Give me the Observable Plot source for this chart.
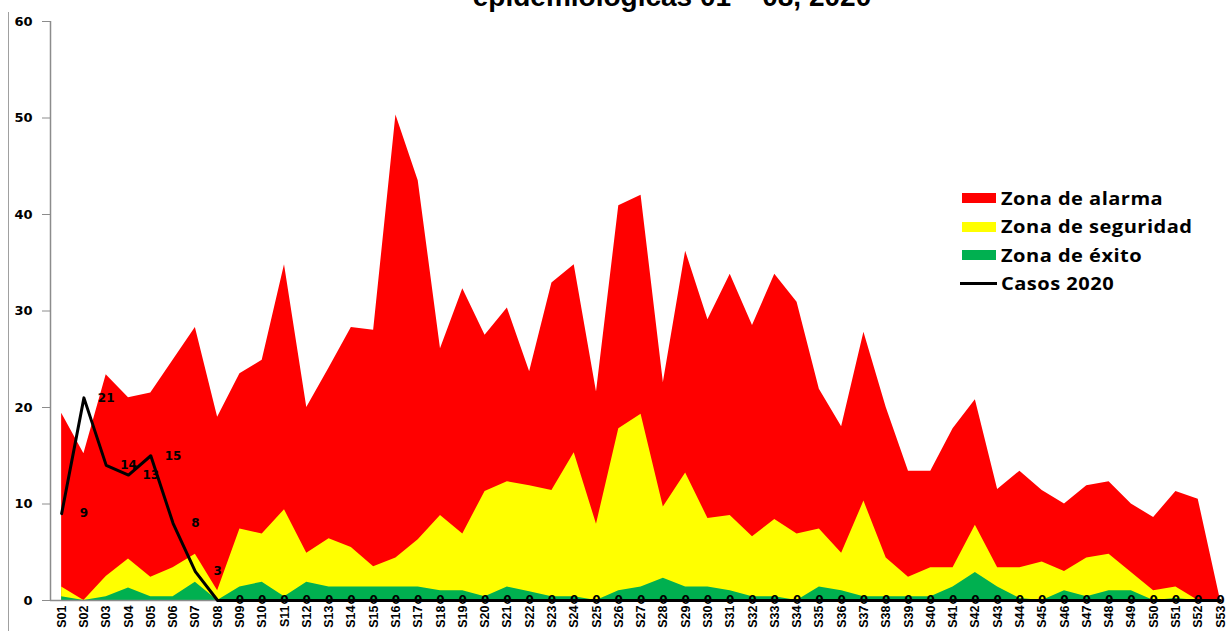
<!DOCTYPE html>
<html><head><meta charset="utf-8">
<script src="https://cdn.jsdelivr.net/npm/d3@7"></script>
<script src="https://cdn.jsdelivr.net/npm/@observablehq/plot@0.6"></script>
<style>
html,body{margin:0;padding:0;background:#fff;overflow:hidden;}
#wrap{position:relative;width:1228px;height:631px;overflow:hidden;background:#fff;}
#chart{position:absolute;left:0;top:0;}
#title{position:absolute;left:0;width:1228px;padding-left:116px;box-sizing:border-box;text-align:center;top:-17px;font:bold 28px "Liberation Sans",Arial,sans-serif;line-height:28px;white-space:nowrap;color:#000;}
#frame{position:absolute;left:8px;top:12px;bottom:0;border-left:1.5px solid #a0a0a0;}
#legend{position:absolute;left:960px;top:184px;font:bold 17px "Open Sans",sans-serif;letter-spacing:0.4px;color:#000;}
.row{display:flex;align-items:center;height:28.5px;}
.row span{display:inline-block;transform:scaleX(1.18);transform-origin:left center;white-space:nowrap;}
.sw{width:34px;height:10px;margin-right:5px;margin-left:2px;}
.ln{width:37px;height:3px;background:#000;margin-right:4px;}
</style></head>
<body>
<div id="wrap">
  <div id="frame"></div>
  <div id="chart"></div>
  <div id="title">epidemiológicas 01 – 08, 2020</div>
  <div id="legend">
    <div class="row"><div class="sw" style="background:#FF0000"></div><span>Zona de alarma</span></div>
    <div class="row"><div class="sw" style="background:#FFFF00"></div><span>Zona de seguridad</span></div>
    <div class="row"><div class="sw" style="background:#00B050"></div><span>Zona de éxito</span></div>
    <div class="row"><div class="ln"></div><span>Casos 2020</span></div>
  </div>
</div>
<script>
const weeks = ["S01","S02","S03","S04","S05","S06","S07","S08","S09","S10",
  "S11","S12","S13","S14","S15","S16","S17","S18","S19","S20",
  "S21","S22","S23","S24","S25","S26","S27","S28","S29","S30",
  "S31","S32","S33","S34","S35","S36","S37","S38","S39","S40",
  "S41","S42","S43","S44","S45","S46","S47","S48","S49","S50",
  "S51","S52","S53"];

const alarma = [19.4,15.2,23.4,21.0,21.5,24.9,28.3,19.0,23.5,24.9,
  34.8,20.0,24.1,28.3,28.0,50.3,43.5,26.1,32.3,27.5,
  30.3,23.7,32.9,34.8,21.6,40.9,42.0,22.6,36.2,29.1,
  33.8,28.5,33.8,30.9,21.9,18.0,27.8,20.0,13.4,13.4,
  17.8,20.8,11.5,13.4,11.4,10.0,11.9,12.3,10.0,8.6,
  11.3,10.5,0];

const seguridad = [1.4,0,2.5,4.3,2.4,3.4,4.8,1.0,7.4,6.9,
  9.4,4.9,6.4,5.5,3.5,4.4,6.3,8.8,6.9,11.3,
  12.3,11.9,11.4,15.3,7.9,17.8,19.3,9.7,13.2,8.5,
  8.8,6.6,8.4,6.9,7.4,4.9,10.3,4.4,2.4,3.4,
  3.4,7.8,3.4,3.4,4.0,3.0,4.4,4.8,2.9,1.0,
  1.4,0,0];

const exito = [0.4,0,0.4,1.3,0.4,0.4,1.9,0,1.4,1.9,
  0.4,1.9,1.4,1.4,1.4,1.4,1.4,1.0,1.0,0.4,
  1.4,0.9,0.4,0.4,0,1.0,1.4,2.3,1.4,1.4,
  1.0,0.4,0.4,0,1.4,1.0,0.4,0.4,0.4,0.4,
  1.4,2.9,1.4,0.2,0,1.0,0.4,1.0,1.0,0,
  0.2,0,0];

const casos2020 = [9,21,14,13,15,8,3,0,0,0,
  0,0,0,0,0,0,0,0,0,0,
  0,0,0,0,0,0,0,0,0,0,
  0,0,0,0,0,0,0,0,0,0,
  0,0,0,0,0,0,0,0,0,0,
  0,0,0];

const yTicks = [0,10,20,30,40,50,60];

const rows = weeks.map((w, k) => ({
  i: k + 1, week: w,
  alarma: alarma[k], seguridad: seguridad[k], exito: exito[k], casos: casos2020[k]
}));
const xStart = 0.5;
const idx = rows.map(d => d.i);

const chart = Plot.plot({
  width: 1228, height: 631,
  marginTop: 21, marginBottom: 31, marginLeft: 50, marginRight: 8,
  style: {background: "transparent", fontFamily: "DejaVu Sans", color: "#000", overflow: "visible"},
  x: {type: "linear", domain: [xStart, weeks.length]},
  y: {domain: [0, 60]},
  marks: [
    Plot.areaY(rows, {x: "i", y: "alarma", fill: "#FF0000"}),
    Plot.areaY(rows, {x: "i", y: "seguridad", fill: "#FFFF00"}),
    Plot.areaY(rows, {x: "i", y: "exito", fill: "#00B050"}),
    Plot.ruleX([xStart], {y1: 0, y2: 60, stroke: "#8c8c8c", strokeWidth: 1.5}),
    Plot.ruleY([0], {stroke: "#8c8c8c", strokeWidth: 1.5}),
    Plot.axisY({ticks: yTicks, tickSize: 8, tickPadding: 10, stroke: "#8c8c8c", fill: "#000",
      fontWeight: "bold", fontSize: 13, fontFamily: "DejaVu Sans", label: null}),
    Plot.axisX({ticks: idx, tickFormat: i => weeks[i - 1], tickRotate: -90, tickSize: 0, tickPadding: 5,
      fill: "#000", fontWeight: "bold", fontSize: 12.5, fontFamily: "Liberation Sans", label: null}),
    Plot.lineY(rows, {x: "i", y: "casos", stroke: "#000", strokeWidth: 3}),
    Plot.text(rows.filter(d => d.i < weeks.length), {
      x: d => d.i + 1, y: "casos", text: d => String(d.casos), dx: 0,
      fontSize: 12, fontWeight: "bold", fontFamily: "DejaVu Sans", fill: "#000"})
  ]
});
document.getElementById("chart").appendChild(chart);
</script>
</body></html>
